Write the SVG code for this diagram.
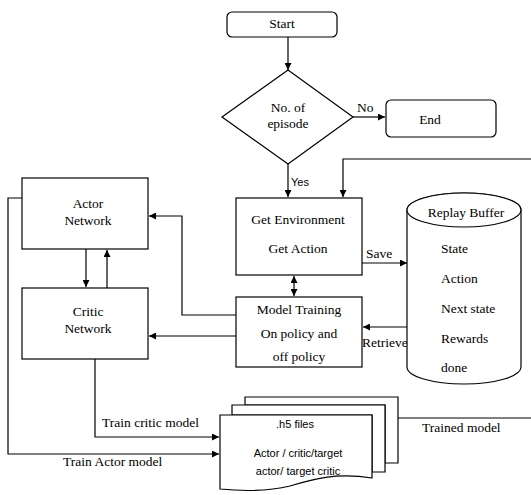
<svg xmlns="http://www.w3.org/2000/svg" width="531" height="495" viewBox="0 0 531 495">
<defs>
<style>
.box{fill:#fff;stroke:#000;stroke-width:1.2}
.ln{fill:none;stroke:#000;stroke-width:1.2}
.t{font-family:"Liberation Serif",serif;font-size:13.5px;fill:#000;text-anchor:middle}
.tl{font-family:"Liberation Serif",serif;font-size:13.5px;fill:#000}
.s{font-family:"Liberation Sans",sans-serif;font-size:11px;fill:#000;text-anchor:middle}
</style>
<marker id="a" viewBox="0 0 10 10" refX="10" refY="5" markerWidth="7" markerHeight="7" markerUnits="userSpaceOnUse" orient="auto-start-reverse"><path d="M0,0L10,5L0,10z" fill="#000"/></marker>
</defs>
<rect width="531" height="495" fill="#fff"/>
<g id="connectors">
<line class="ln" x1="288" y1="37" x2="288" y2="70" marker-end="url(#a)"/>
<line class="ln" x1="353" y1="117" x2="385" y2="117" marker-end="url(#a)"/>
<line class="ln" x1="288" y1="164" x2="288" y2="197" marker-end="url(#a)"/>
<polyline class="ln" points="531,159 343,159 343,197" marker-end="url(#a)"/>
<line class="ln" x1="362" y1="263" x2="407" y2="263" marker-end="url(#a)"/>
<line class="ln" x1="294" y1="276" x2="294" y2="296" marker-start="url(#a)" marker-end="url(#a)"/>
<line class="ln" x1="407" y1="327" x2="363" y2="327" marker-end="url(#a)"/>
<polyline class="ln" points="236,315 182,315 182,216 149,216" marker-end="url(#a)"/>
<line class="ln" x1="236" y1="336" x2="149" y2="336" marker-end="url(#a)"/>
<line class="ln" x1="86" y1="249" x2="86" y2="287" marker-end="url(#a)"/>
<line class="ln" x1="107" y1="288" x2="107" y2="250" marker-end="url(#a)"/>
<polyline class="ln" points="22,198 8,198 8,454 219,454" marker-end="url(#a)"/>
<polyline class="ln" points="95,359 95,437 219,437" marker-end="url(#a)"/>
<line class="ln" x1="398" y1="418" x2="531" y2="418"/>
<text class="tl" x="357" y="112">No</text>
<text class="s" x="300" y="186">Yes</text>
<text class="tl" x="366" y="258">Save</text>
<text class="tl" x="362" y="347">Retrieve</text>
<text class="tl" x="102" y="427">Train critic model</text>
<text class="tl" x="63" y="466">Train Actor model</text>
<text class="tl" x="422" y="432">Trained model</text>
</g>
<g id="start">
<rect class="box" x="227" y="12" width="110" height="25" rx="5"/>
<text class="t" x="282" y="28">Start</text>
</g>
<g id="decision">
<polygon class="box" points="288,70 353,117 288,164 222,117"/>
<text class="t" x="288" y="112">No. of</text>
<text class="t" x="288" y="128">episode</text>
</g>
<g id="end">
<rect class="box" x="386" y="100" width="110" height="37" rx="5"/>
<text class="t" x="430" y="124">End</text>
</g>
<g id="getenv">
<rect class="box" x="236" y="198" width="126" height="77"/>
<text class="t" x="298" y="224">Get Environment</text>
<text class="t" x="298" y="253">Get Action</text>
</g>
<g id="training">
<rect class="box" x="236" y="297" width="126" height="70"/>
<text class="t" x="299" y="314">Model Training</text>
<text class="t" x="299" y="338">On policy and</text>
<text class="t" x="299" y="361">off policy</text>
</g>
<g id="replay">
<path class="box" d="M407,210 L407,367 A57,17 0 0 0 521,367 L521,210 A57,17 0 0 0 407,210 Z"/>
<ellipse class="box" cx="464" cy="210" rx="57" ry="17"/>
<text class="t" x="466" y="217">Replay Buffer</text>
<text class="tl" x="441" y="253">State</text>
<text class="tl" x="441" y="283">Action</text>
<text class="tl" x="441" y="313">Next state</text>
<text class="tl" x="441" y="343">Rewards</text>
<text class="tl" x="441" y="372">done</text>
</g>
<g id="actor">
<rect class="box" x="22" y="178" width="126" height="71"/>
<text class="t" x="88" y="208">Actor</text>
<text class="t" x="88" y="225">Network</text>
</g>
<g id="critic">
<rect class="box" x="22" y="288" width="126" height="71"/>
<text class="t" x="88" y="316">Critic</text>
<text class="t" x="88" y="333">Network</text>
</g>
<g id="files">
<path class="box" d="M245,397 L398,397 L398,463 L385,463 L385,405 L245,405 Z"/>
<path class="box" d="M232,405 L385,405 L385,472 L372,472 L372,415 L232,415 Z"/>
<path class="box" d="M220,415 L372,415 L372,478 C335,472 310,480 290,486 C265,492 240,491 220,489 Z"/>
<text class="s" x="295" y="428">.h5 files</text>
<text class="s" x="298" y="457">Actor / critic/target</text>
<text class="s" x="298" y="475">actor/ target critic</text>
</g>
</svg>
